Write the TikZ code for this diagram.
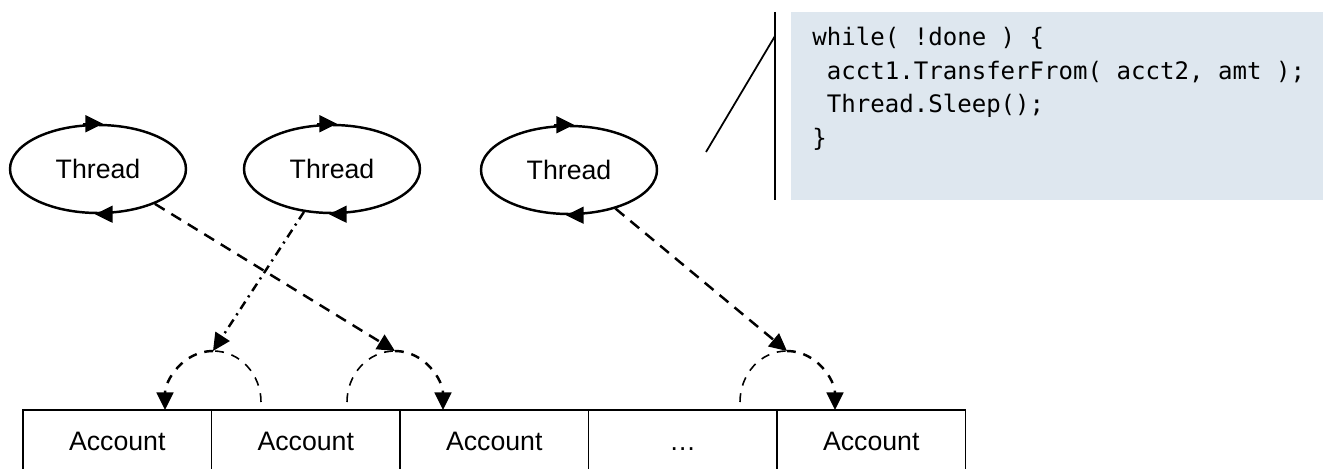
\documentclass[tikz,border=0pt]{standalone}
\usepackage{fontspec}
\setmainfont{Liberation Sans}
\newfontfamily\codefont{DejaVu Sans Mono}
\usepackage{xcolor}
\usetikzlibrary{shapes.geometric,arrows.meta}
\definecolor{codebg}{HTML}{DEE7EF}
\tikzset{thread/.style={ellipse,draw,line width=1.4pt,minimum width=3.52cm,minimum height=1.76cm,inner sep=0pt,font=\fontsize{15.2}{17}\selectfont},
  account/.style={rectangle,draw,line width=1pt,minimum width=3.77cm,minimum height=1.24cm,inner sep=0pt,outer sep=0pt,text height=10.9pt,text depth=0pt,font=\fontsize{15.2}{17}\selectfont},
  arrowtip/.style={-{Triangle[length=10pt,width=9.5pt]}},
  flow/.style={arrowtip,line width=1.4pt,dash pattern=on 6.5pt off 4.5pt},
  flowdot/.style={arrowtip,line width=1.4pt,dash pattern=on 5pt off 3pt on 1.2pt off 3pt},
  swapthin/.style={line width=0.9pt,dash pattern=on 5pt off 4.5pt},
  swapthick/.style={arrowtip,line width=1.4pt,dash pattern=on 5pt off 4.5pt},
  codebox/.style={rectangle,fill=codebg,minimum width=10.64cm,minimum height=3.76cm,inner sep=0pt},
  codetext/.style={align=left,inner sep=0pt,font=\codefont\fontsize{13.7}{19.35}\selectfont},
  callout/.style={line width=1pt}}

\begin{document}
\begin{tikzpicture}[x=0.02cm,y=-0.02cm]
    \useasboundingbox (0,0) rectangle (1327,469);
    \clip (0,0) rectangle (1327,469);

    % threads
    \node[thread] (t1) at (98,169) {Thread};
    \node[thread] (t2) at (332,169) {Thread};
    \node[thread] (t3) at (569,170) {Thread};
    \foreach \t in {t1,t2,t3} {
        \draw [arrowtip,line width=1.4pt] ([xshift=-0.3cm]\t.north) -- ([xshift=0.1cm]\t.north);
        \draw [arrowtip,line width=1.4pt] ([xshift=0.24cm]\t.south) -- ([xshift=-0.06cm]\t.south);
    }

    % accounts
    \node[account] (acc1) at (117.25,441) {Account};
    \node[account] (acc2) at (305.75,441) {Account};
    \node[account] (acc3) at (494.25,441) {Account};
    \node[account] (acc4) at (682.75,441) {…};
    \node[account] (acc5) at (871.25,441) {Account};

    % transfer arcs
    \coordinate (p12) at (213,351);
    \coordinate (p23) at (395,351);
    \coordinate (p45) at (787,351);
    \coordinate (a2out) at (261,402);
    \coordinate (a1in) at (165,410);
    \coordinate (a2from) at (347,402);
    \coordinate (a3in) at (443,410);
    \coordinate (a4out) at (740,402);
    \coordinate (a5in) at (835,410);

    \draw [swapthin] (a2out) to [out=90,in=0] (p12);
    \draw [swapthick] (p12) to [out=180,in=90] (a1in);
    \draw [swapthin] (a2from) to [out=90,in=180] (p23);
    \draw [swapthick] (p23) to [out=0,in=90] (a3in);
    \draw [swapthin] (a4out) to [out=90,in=180] (p45);
    \draw [swapthick] (p45) to [out=0,in=90] (a5in);

    \draw [flow] (t1) -- (p23);
    \draw [flowdot] (t2) -- (p12);
    \draw [flow] (t3) -- (p45);

    % code
    \node[codebox,anchor=north west] (box) at (791,12) {};
    \node[codetext,anchor=base west] (code) at (812,147) {while( !done ) \{\\
        \hphantom{a}acct1.TransferFrom( acct2, amt );\\
        \hphantom{a}Thread.Sleep();\\
        \}};
    \coordinate (brtop) at (775,12);
    \coordinate (brbot) at (775,200);
    \coordinate (brtip) at (775,36);
    \coordinate (lead) at (706,152);
    \draw [callout] (brtop) -- (brbot);
    \draw [callout] (lead) -- (brtip);
\end{tikzpicture}
\end{document}
